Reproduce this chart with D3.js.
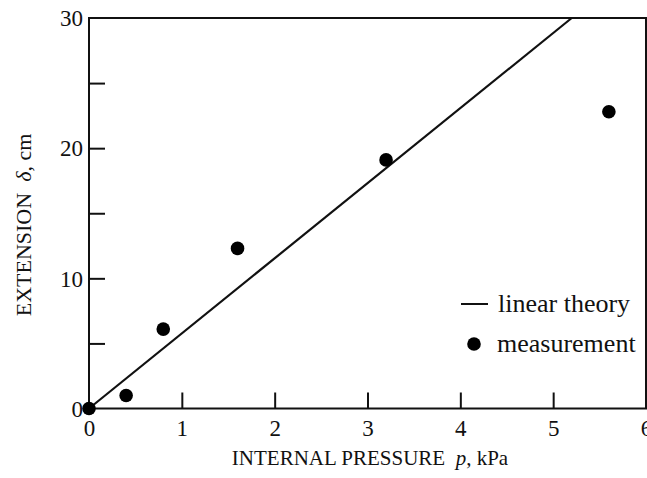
<!DOCTYPE html>
<html><head><meta charset="utf-8">
<script src="https://cdn.jsdelivr.net/npm/d3@7"></script>
<style>body{margin:0;background:#fff}svg text{font-family:"Liberation Serif","Times New Roman",serif;fill:#111}</style>
</head><body>
<svg id="c" width="647" height="478"></svg>
<script>
const pressure = [0, 0.4, 0.8, 1.6, 3.2, 5.6];
const extension = [0, 1.0, 6.1, 12.3, 19.1, 22.8];
const theoryP = [0, 5.2];
const theoryD = [0, 30];
const xTicks = [0, 1, 2, 3, 4, 5, 6];
const yTicks = [0, 5, 10, 15, 20, 25, 30];
const yTickLabels = [0, 10, 20, 30];

const SERIF = "Liberation Serif, Times New Roman, serif";
const svg = d3.select("#c");
const m = {l: 89, r: 646, t: 18, b: 408.5};
const x = d3.scaleLinear().domain([0, 6]).range([m.l, m.r]);
const y = d3.scaleLinear().domain([0, 30]).range([m.b, m.t]);
const tickLen = 16;

// frame
svg.append("rect").attr("x", m.l).attr("y", m.t).attr("width", m.r - m.l).attr("height", m.b - m.t)
  .attr("fill", "none").attr("stroke", "#111").attr("stroke-width", 2);

// x ticks (inward)
const xa = svg.append("g").attr("transform", `translate(0,${m.b})`)
  .call(d3.axisBottom(x).tickValues(xTicks).tickSizeInner(-tickLen).tickSizeOuter(0).tickPadding(0).tickFormat(d3.format("d")));
xa.attr("font-family", SERIF);
xa.select(".domain").remove();
xa.selectAll(".tick line").attr("stroke", "#111").attr("stroke-width", 2)
  .filter(d => d === 0 || d === 6).remove();
xa.selectAll(".tick text").attr("font-size", 23).attr("dy", null).attr("y", 27);

// y ticks (inward)
const ya = svg.append("g").attr("transform", `translate(${m.l},0)`)
  .call(d3.axisLeft(y).tickValues(yTicks).tickSizeInner(-tickLen).tickSizeOuter(0).tickPadding(0)
    .tickFormat(d => yTickLabels.includes(d) ? d : ""));
ya.attr("font-family", SERIF);
ya.select(".domain").remove();
ya.selectAll(".tick line").attr("stroke", "#111").attr("stroke-width", 2)
  .filter(d => d === 0 || d === 30).remove();
ya.selectAll(".tick text").attr("font-size", 23).attr("x", -6).attr("dy", "0.34em");

// theory line
svg.append("path")
  .datum(theoryP.map((p, i) => [p, theoryD[i]]))
  .attr("d", d3.line().x(d => x(d[0])).y(d => y(d[1])))
  .attr("fill", "none").attr("stroke", "#111").attr("stroke-width", 2.2);

// measurements
svg.append("g").selectAll("circle").data(pressure.map((p, i) => [p, extension[i]])).join("circle")
  .attr("cx", d => x(d[0])).attr("cy", d => y(d[1])).attr("r", 6.8).attr("fill", "#000");

// legend
const lg = svg.append("g").attr("font-family", SERIF);
lg.append("line").attr("x1", 461).attr("x2", 488).attr("y1", 304).attr("y2", 304).attr("stroke", "#111").attr("stroke-width", 2);
lg.append("text").attr("x", 498).attr("y", 312).attr("font-size", 26).text("linear theory");
lg.append("circle").attr("cx", 474).attr("cy", 344).attr("r", 6.8).attr("fill", "#000");
lg.append("text").attr("x", 497).attr("y", 352).attr("font-size", 26).text("measurement");

// axis titles
const xt = svg.append("text").attr("x", 370).attr("y", 465).attr("text-anchor", "middle").attr("font-size", 21).attr("font-family", SERIF);
xt.append("tspan").text("INTERNAL PRESSURE\u00a0\u00a0");
xt.append("tspan").attr("font-style", "italic").text("p");
xt.append("tspan").text(", kPa");

const yt = svg.append("text").attr("transform", "translate(31,225) rotate(-90)").attr("text-anchor", "middle").attr("font-size", 22).attr("font-family", SERIF);
yt.append("tspan").text("EXTENSION\u00a0\u00a0");
yt.append("tspan").attr("font-style", "italic").text("\u03b4");
yt.append("tspan").text(", cm");
</script>
</body></html>
